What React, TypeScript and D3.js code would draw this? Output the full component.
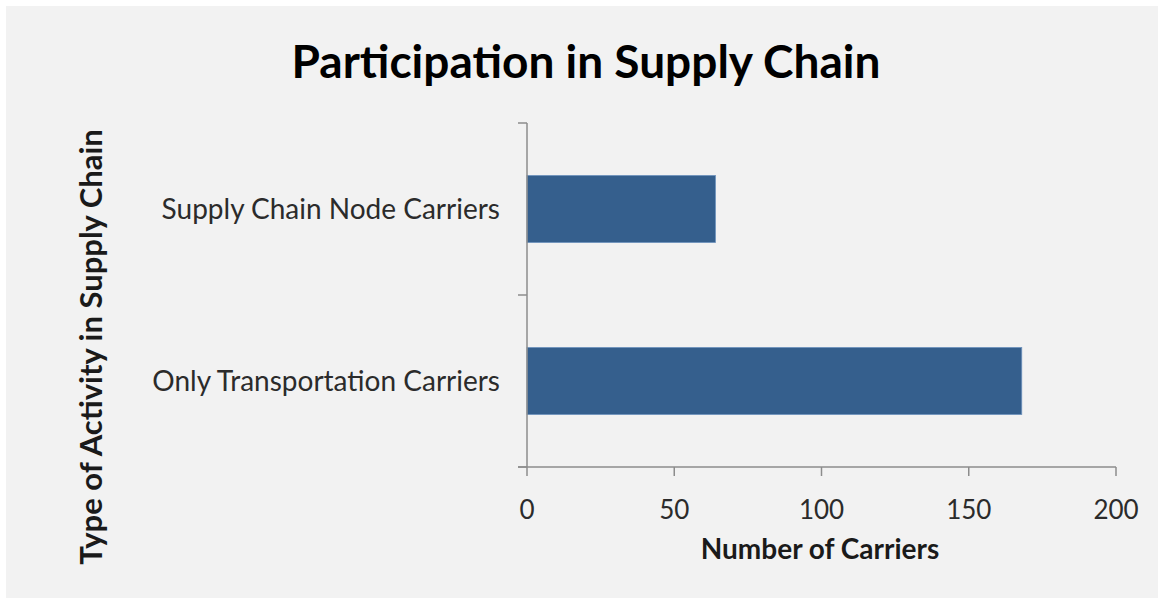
import React, { useEffect, useRef } from 'react';
import * as d3 from 'd3';

const categories = ['Supply Chain Node Carriers', 'Only Transportation Carriers'];
const carriers = [64, 168];
const xTicks = [0, 50, 100, 150, 200];

const W = 1158;
const H = 598;
const FONT = 'Lato, "Open Sans", sans-serif';

const App = () => {
  const ref = useRef(null);

  useEffect(() => {
    drawChart();
  }, []);

  const drawChart = () => {
    const margin = { top: 123, right: 42, bottom: 131, left: 527 };
    const width = W - margin.left - margin.right;
    const height = H - margin.top - margin.bottom;

    d3.select(ref.current).select('svg').remove();

    const root = d3
      .select(ref.current)
      .append('svg')
      .attr('width', W)
      .attr('height', H)
      .style('position', 'absolute')
      .style('left', 0)
      .style('top', 0);

    root.append('rect').attr('width', W).attr('height', H).attr('fill', '#ffffff');
    root.append('rect').attr('x', 6).attr('y', 6).attr('width', W - 6).attr('height', H - 6).attr('fill', '#f2f2f2');

    const svg = root.append('g').attr('transform', `translate(${margin.left},${margin.top})`);

    const x = d3.scaleLinear().domain([0, 200]).range([0, width]);
    const y = d3.scaleBand().domain(categories).range([0, height]).paddingInner(0.61).paddingOuter(0.305);

    // bars
    svg
      .selectAll('.bar')
      .data(categories)
      .enter()
      .append('rect')
      .attr('class', 'bar')
      .attr('x', x(0))
      .attr('y', (d) => y(d))
      .attr('width', (d, i) => x(carriers[i]) - x(0))
      .attr('height', y.bandwidth())
      .attr('fill', '#355f8d')
      .attr('stroke', '#6f93bd')
      .attr('stroke-width', 0.8);

    // y axis with ticks at band boundaries
    const axisColor = '#8c8c8c';
    svg.append('line').attr('x1', 0).attr('x2', 0).attr('y1', 0).attr('y2', height).attr('stroke', axisColor).attr('stroke-width', 1.5);
    const bounds = [0, y.step(), height];
    svg
      .selectAll('.ytick')
      .data(bounds)
      .enter()
      .append('line')
      .attr('x1', -9)
      .attr('x2', 0)
      .attr('y1', (d) => d)
      .attr('y2', (d) => d)
      .attr('stroke', axisColor)
      .attr('stroke-width', 1.5);

    svg
      .selectAll('.ylabel')
      .data(categories)
      .enter()
      .append('text')
      .attr('x', -27)
      .attr('y', (d) => y(d) + y.bandwidth() / 2)
      .attr('dy', '0.35em')
      .attr('text-anchor', 'end')
      .style('font-family', FONT)
      .style('font-size', '28px')
      .attr('fill', '#2b2b2b')
      .text((d) => d);

    // x axis
    svg.append('line').attr('x1', -9).attr('x2', x(200)).attr('y1', height).attr('y2', height).attr('stroke', axisColor).attr('stroke-width', 1.5);
    svg
      .selectAll('.xtick')
      .data(xTicks)
      .enter()
      .append('line')
      .attr('x1', (d) => x(d))
      .attr('x2', (d) => x(d))
      .attr('y1', height)
      .attr('y2', height + 9)
      .attr('stroke', axisColor)
      .attr('stroke-width', 1.5);
    svg
      .selectAll('.xlabel')
      .data(xTicks)
      .enter()
      .append('text')
      .attr('x', (d) => x(d))
      .attr('y', height + 52)
      .attr('text-anchor', 'middle')
      .style('font-family', FONT)
      .style('font-size', '26px')
      .attr('fill', '#2b2b2b')
      .text((d) => d);

    // titles
    root
      .append('text')
      .attr('x', 586)
      .attr('y', 78)
      .attr('text-anchor', 'middle')
      .style('font-family', FONT)
      .style('font-size', '46px')
      .style('font-weight', 'bold')
      .attr('fill', '#000')
      .text('Participation in Supply Chain');

    root
      .append('text')
      .attr('x', 820)
      .attr('y', 559)
      .attr('text-anchor', 'middle')
      .style('font-family', FONT)
      .style('font-size', '28px')
      .style('font-weight', 'bold')
      .attr('fill', '#1a1a1a')
      .text('Number of Carriers');

    root
      .append('text')
      .attr('transform', 'translate(102,347) rotate(-90)')
      .attr('text-anchor', 'middle')
      .style('font-family', FONT)
      .style('font-size', '31px')
      .style('font-weight', 'bold')
      .attr('fill', '#1a1a1a')
      .text('Type of Activity in Supply Chain');
  };

  return <div ref={ref}></div>;
};

export default App;
